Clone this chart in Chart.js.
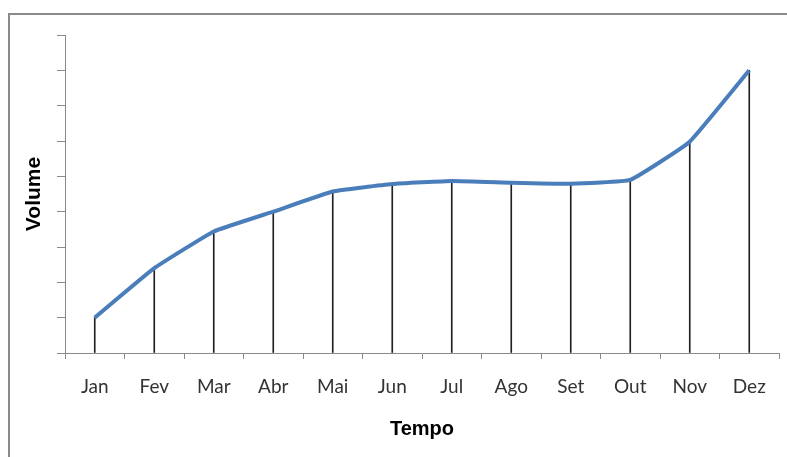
<!DOCTYPE html>
<html>
<head>
<meta charset="utf-8">
<script src="https://cdn.jsdelivr.net/npm/chart.js@4.4.1/dist/chart.umd.min.js"></script>
<style>
    body { margin: 0; background: #fff; overflow: hidden; }
    #moldura { position: absolute; left: 8px; top: 13px; width: 900px; height: 600px; border-left: 2px solid #8a8a8a; border-top: 2px solid #8a8a8a; }
    #grafico { position: absolute; left: 0; top: 0; }
</style>
</head>
<body>
<div id="moldura"></div>
<canvas id="grafico" width="787" height="457"></canvas>
<script>
// dados do grafico
const meses = ["Jan", "Fev", "Mar", "Abr", "Mai", "Jun", "Jul", "Ago", "Set", "Out", "Nov", "Dez"];
const volume = [1.0, 2.4, 3.44, 4.0, 4.57, 4.78, 4.87, 4.82, 4.79, 4.9, 5.98, 8.0];
const eixoY = { min: 0, max: 9, passo: 1 };

const cinza = "#8a8a8a";

let ctx = document.getElementById("grafico").getContext("2d");
let chart = new Chart(ctx, {
    type: "bar",
    data: {
        labels: meses,
        datasets: [
            {
                type: "line",
                label: "Volume",
                data: volume,
                borderColor: "#4a7ebb",
                borderWidth: 4,
                pointRadius: 0,
                tension: 0.1,
                fill: false,
                order: 0
            },
            {
                label: "linhas",
                data: volume,
                backgroundColor: "#222",
                barThickness: 1,
                order: 1
            }
        ]
    },
    options: {
        responsive: false,
        animation: false,
        layout: { padding: { top: 35, right: 8, left: 0, bottom: 0 } },
        plugins: { legend: { display: false }, tooltip: { enabled: false } },
        scales: {
            x: {
                offset: true,
                grid: { offset: true, drawOnChartArea: false, drawTicks: true, tickLength: 6, color: cinza },
                border: { color: cinza, width: 1 },
                ticks: { color: "#333", padding: 16, font: { family: "Lato", size: 19 } },
                title: { display: true, text: "Tempo", color: "#000", padding: { top: 0, bottom: 16 }, font: { family: "Liberation Sans", size: 20, weight: "bold" } },
                afterFit: (scale) => { scale.height = 104; }
            },
            y: {
                min: eixoY.min,
                max: eixoY.max,
                grid: { drawOnChartArea: false, drawTicks: true, tickLength: 8, color: cinza },
                border: { color: cinza, width: 1 },
                ticks: { display: false, stepSize: eixoY.passo },
                title: { display: true, text: "Volume", color: "#000", padding: { top: 22, bottom: 0 }, font: { family: "Liberation Sans", size: 21, weight: "bold" } },
                afterFit: (scale) => { scale.width = 65; }
            }
        }
    }
});
</script>
</body>
</html>
